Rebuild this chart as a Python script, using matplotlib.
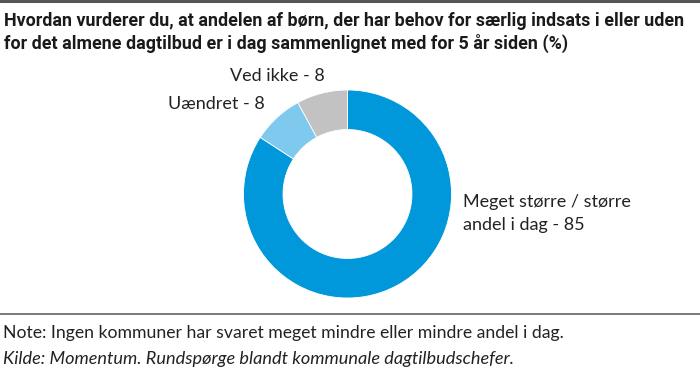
import matplotlib
matplotlib.use("Agg")
import matplotlib.pyplot as plt

# data
labels = ["Meget større / større\nandel i dag", "Uændret", "Ved ikke"]
values = [85, 8, 8]
colors = ["#0098da", "#7fc8ee", "#c2c2c2"]

title = ("Hvordan vurderer du, at andelen af børn, der har behov for særlig indsats i eller uden\n"
         "for det almene dagtilbud er i dag sammenlignet med for 5 år siden (%)")
note = "Note: Ingen kommuner har svaret meget mindre eller mindre andel i dag."
source = "Kilde: Momentum. Rundspørge blandt kommunale dagtilbudschefer."

W, H = 700, 372
fig = plt.figure(figsize=(W / 100, H / 100), dpi=100)

def fx(px):
    return px / W

def fy(py):
    return 1 - py / H

# top border and bottom rule
fig.add_artist(plt.Line2D([0, 1], [fy(1), fy(1)], color="#555555", lw=2.2))
fig.add_artist(plt.Line2D([0, 1], [fy(313.5), fy(313.5)], color="#7a7a7a", lw=1.4))

fig.text(fx(4), fy(26), title.split("\n")[0], ha="left", va="baseline", fontsize=12.9,
         fontweight="bold", family="Roboto", color="#1a1a1a")
fig.text(fx(4), fy(49), title.split("\n")[1], ha="left", va="baseline", fontsize=12.9,
         fontweight="bold", family="Roboto", color="#1a1a1a")

# donut
cx, cy, r = 347.5, 194, 104
ax = fig.add_axes([fx(cx - r), fy(cy + r), 2 * r / W, 2 * r / H])
ax.pie(values, colors=colors, startangle=90, counterclock=False,
       wedgeprops=dict(width=0.38, edgecolor="white", linewidth=0.6))
ax.set_xlim(-1, 1)
ax.set_ylim(-1, 1)
ax.set_aspect("equal")
ax.axis("off")

lab_style = dict(fontsize=13, family="Lato", color="#222222", ha="left", va="baseline")
fig.text(fx(230), fy(81), f"{labels[2]} - {values[2]}", **lab_style)
fig.text(fx(168), fy(109), f"{labels[1]} - {values[1]}", **lab_style)
first, second = labels[0].split("\n")
fig.text(fx(463), fy(207), first, **lab_style)
fig.text(fx(463), fy(230), f"{second} - {values[0]}", **lab_style)

fig.text(fx(3), fy(338), note, fontsize=12.7, family="Lato", color="#222222",
         ha="left", va="baseline")
fig.text(fx(3), fy(364), source, fontsize=13.1, family="Lato", style="italic",
         color="#222222", ha="left", va="baseline")

fig.savefig("out.png", dpi=100)
